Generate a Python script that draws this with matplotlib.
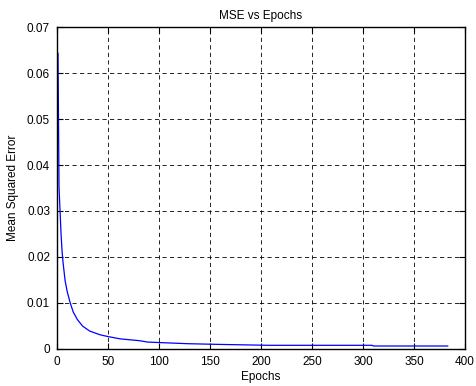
import numpy as np
import matplotlib
matplotlib.use("Agg")
from matplotlib import pyplot as plt

plt.rcParams['font.family'] = ['Liberation Sans', 'DejaVu Sans']

# training error per epoch (points along the curve)
epochs = [1, 2, 3, 4, 5, 6, 8, 10, 13, 16, 20, 25, 32, 42, 50, 62, 81, 89,
          111, 128, 158, 207, 309, 310, 383]
mse = [0.0643, 0.0352, 0.0300, 0.0250, 0.0212, 0.0187, 0.0148, 0.0125,
       0.0100, 0.0080, 0.0064, 0.0050, 0.0039, 0.0031, 0.0027, 0.0022,
       0.0018, 0.0015, 0.0013, 0.00115, 0.0010, 0.0008, 0.0008, 0.00065,
       0.00065]

xticks = np.arange(0, 401, 50)
yticks = np.arange(0, 0.0701, 0.01)

fig = plt.figure(figsize=(4.76, 3.86), dpi=100)
ax = fig.add_axes([0.1197, 0.0959, 0.8573, 0.8341])

ax.plot(epochs, mse, color='#0000ff', linewidth=0.9)

ax.set_xlim(0, 400)
ax.set_ylim(0, 0.07)
ax.set_xticks(xticks)
ax.set_yticks(yticks)
ax.set_yticklabels(['0'] + ['%.2f' % v for v in yticks[1:]])
ax.tick_params(direction='in', top=True, right=True, labelsize=8.5, length=4,
               width=0.8, pad=5)
ax.grid(True, color='k', linestyle=(0, (5, 4)), linewidth=0.6)
for s in ax.spines.values():
    s.set_linewidth(1.0)

ax.set_title('MSE vs Epochs', fontsize=8.5, pad=6)
ax.set_xlabel('Epochs', fontsize=8.5, labelpad=2)
ax.set_ylabel('Mean Squared Error', fontsize=8.5, labelpad=6)

fig.savefig('out.png', dpi=100)
